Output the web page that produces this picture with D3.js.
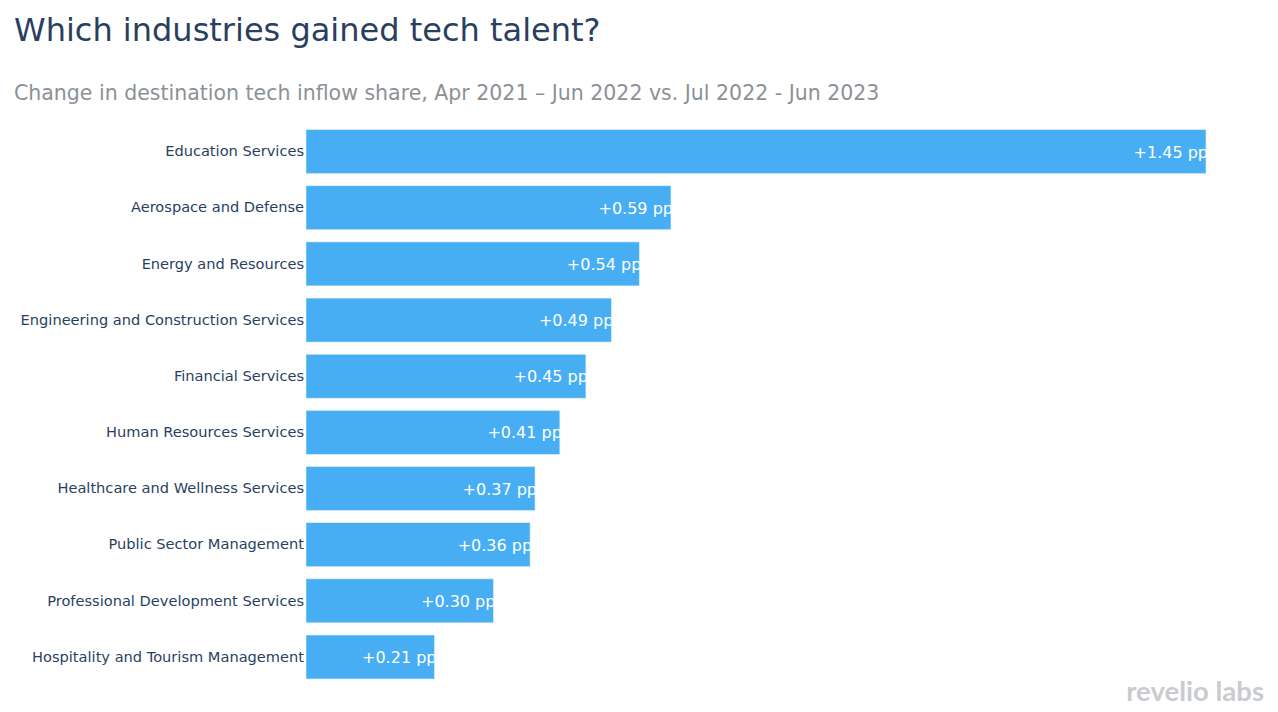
<!DOCTYPE html>
<html><head><meta charset="utf-8">
<script src="https://cdn.jsdelivr.net/npm/d3@7"></script>
<style>
html,body{margin:0;padding:0;background:#fff;}
svg{display:block;font-family:"DejaVu Sans",Verdana,sans-serif;}
</style></head>
<body>
<svg id="chart" width="1278" height="712"></svg>
<script>
const categories = [
  "Education Services",
  "Aerospace and Defense",
  "Energy and Resources",
  "Engineering and Construction Services",
  "Financial Services",
  "Human Resources Services",
  "Healthcare and Wellness Services",
  "Public Sector Management",
  "Professional Development Services",
  "Hospitality and Tourism Management"
];
const values = [1.45, 0.588, 0.537, 0.492, 0.451, 0.409, 0.369, 0.361, 0.302, 0.207];
const titleText = "Which industries gained tech talent?";
const subtitleText = "Change in destination tech inflow share, Apr 2021 \u2013 Jun 2022 vs. Jul 2022 - Jun 2023";

const svg = d3.select("#chart");
const W = 1278, H = 712;
const margin = {left: 306, right: 72, top: 124, bottom: 27.4};

const x = d3.scaleLinear().domain([0, d3.max(values)]).range([margin.left, W - margin.right]);
const y = d3.scaleBand().domain(categories).range([margin.top, H - margin.bottom]).paddingInner(0.217).paddingOuter(0.1);

svg.append("text").attr("x", 14).attr("y", 41)
  .attr("fill", "#2a3f5f").attr("font-size", 32).text(titleText);
svg.append("text").attr("x", 14).attr("y", 100)
  .attr("fill", "#8c9196").attr("font-size", 20.5).text(subtitleText);

const data = categories.map((c, i) => ({c, v: values[i], i}));
const fmt = d3.format("+.2f");

const defs = svg.append("defs");
data.forEach(d => {
  defs.append("clipPath").attr("id", "clip" + d.i)
    .append("rect").attr("x", x(0)).attr("y", y(d.c))
    .attr("width", x(d.v) - x(0)).attr("height", y.bandwidth());
});

const g = svg.append("g");
g.selectAll("rect.bar").data(data).join("rect")
  .attr("class", "bar")
  .attr("x", x(0)).attr("y", d => y(d.c))
  .attr("width", d => x(d.v) - x(0)).attr("height", y.bandwidth())
  .attr("fill", "#48aef4").attr("stroke", "#ddeefc").attr("stroke-width", 0.6);

g.selectAll("text.val").data(data).join("text")
  .attr("class", "val")
  .attr("clip-path", d => "url(#clip" + d.i + ")")
  .attr("x", d => x(d.v) + 2).attr("y", d => y(d.c) + y.bandwidth() / 2)
  .attr("dy", "0.38em").attr("text-anchor", "end")
  .attr("fill", "#ffffff").attr("font-size", 16)
  .text(d => fmt(d.v) + " pp");

const yAxis = d3.axisLeft(y).tickSize(0).tickPadding(2);
const ya = svg.append("g").attr("transform", `translate(${margin.left},0)`).call(yAxis);
ya.select(".domain").remove();
ya.selectAll("text").attr("fill", "#2a3f5f").attr("font-size", 14.6)
  .attr("font-family", "\"DejaVu Sans\",Verdana,sans-serif");

svg.append("text").attr("x", 1264).attr("y", 701).attr("text-anchor", "end")
  .attr("fill", "#c9cbcf").attr("font-size", 27.5).attr("font-weight", "bold")
  .attr("font-family", "Lato, \"Open Sans\", sans-serif")
  .text("revelio labs");
</script>
</body></html>
